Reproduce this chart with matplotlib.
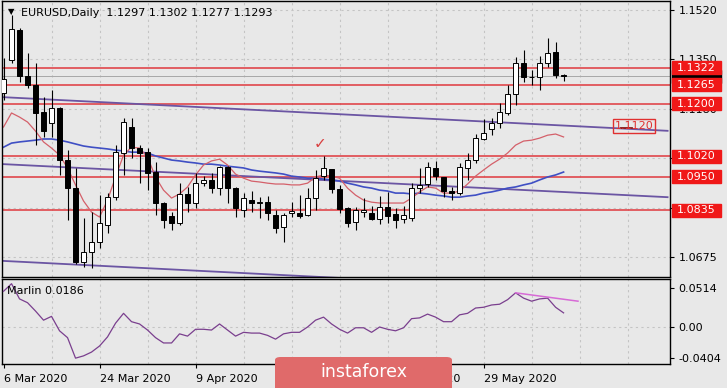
import numpy as np
import pandas as pd
import matplotlib
matplotlib.use('Agg')
import matplotlib.pyplot as plt
import matplotlib.transforms as mtransforms
from matplotlib.patches import Rectangle, FancyBboxPatch

# EURUSD daily bars, 6 Mar 2020 onwards
opens = [1.1236, 1.1349, 1.1452, 1.1294, 1.1263, 1.1171, 1.1134, 1.1185, 1.1007, 1.0911,
         1.0658, 1.0692, 1.0727, 1.0785, 1.0880, 1.1031, 1.1120, 1.1048, 1.1034, 1.0966,
         1.0860, 1.0815, 1.0792, 1.0891, 1.0860, 1.0928, 1.0939, 1.0911, 1.0983, 1.0911,
         1.0836, 1.0870, 1.0860, 1.0863, 1.0819, 1.0778, 1.0826, 1.0826, 1.0819, 1.0877,
         1.0952, 1.0976, 1.0908, 1.0843, 1.0795, 1.0829, 1.0826, 1.0805, 1.0846, 1.0822,
         1.0805, 1.0809, 1.0911, 1.0925, 1.0980, 1.0949, 1.0901, 1.0894, 1.0980, 1.1007,
         1.1079, 1.1113, 1.1134, 1.1168, 1.1233, 1.1339, 1.1291, 1.1291, 1.1339, 1.1376,
         1.1297]
highs = [1.1356, 1.1503, 1.1458, 1.1373, 1.1339, 1.1222, 1.1246, 1.1188, 1.1041, 1.0980,
         1.0809, 1.0829, 1.0887, 1.0894, 1.1058, 1.1151, 1.1151, 1.1058, 1.1048, 1.1000,
         1.0864, 1.0829, 1.0928, 1.0915, 1.0963, 1.0952, 1.0963, 1.0986, 1.0986, 1.0915,
         1.0894, 1.0901, 1.0880, 1.0884, 1.0836, 1.0826, 1.0864, 1.0887, 1.0911, 1.0973,
         1.1021, 1.0976, 1.0922, 1.0846, 1.0846, 1.0877, 1.0850, 1.0884, 1.0898, 1.0843,
         1.0850, 1.0928, 1.0980, 1.1000, 1.1004, 1.0949, 1.0915, 1.0997, 1.1031, 1.1096,
         1.1147, 1.1151, 1.1202, 1.1264, 1.1359, 1.1383, 1.1315, 1.1363, 1.1424, 1.1411,
         1.1302]
lows = [1.1212, 1.1339, 1.1274, 1.1253, 1.1058, 1.1086, 1.1086, 1.0956, 1.0802, 1.0651,
        1.0641, 1.0637, 1.0706, 1.0757, 1.0870, 1.0956, 1.1014, 1.0928, 1.0904, 1.0819,
        1.0774, 1.0768, 1.0785, 1.0829, 1.0843, 1.0918, 1.0894, 1.0887, 1.0860, 1.0812,
        1.0812, 1.0829, 1.0809, 1.0802, 1.0757, 1.0727, 1.0812, 1.0809, 1.0815, 1.0836,
        1.0939, 1.0894, 1.0826, 1.0778, 1.0768, 1.0812, 1.0802, 1.0788, 1.0792, 1.0774,
        1.0792, 1.0798, 1.0894, 1.0915, 1.0939, 1.0880, 1.0870, 1.0887, 1.0939, 1.0997,
        1.1075, 1.1093, 1.1116, 1.1161, 1.1195, 1.1274, 1.1264, 1.1246, 1.1325, 1.1287,
        1.1277]
closes = [1.1284, 1.1455, 1.1294, 1.1264, 1.1168, 1.1106, 1.1185, 1.1007, 1.0911, 1.0658,
          1.0692, 1.0727, 1.0792, 1.0880, 1.1034, 1.1137, 1.1048, 1.1031, 1.0963, 1.0860,
          1.0802, 1.0792, 1.0891, 1.0860, 1.0928, 1.0939, 1.0911, 1.0983, 1.0911, 1.0843,
          1.0877, 1.0860, 1.0863, 1.0826, 1.0774, 1.0819, 1.0833, 1.0815, 1.0877, 1.0945,
          1.0980, 1.0908, 1.0839, 1.0792, 1.0836, 1.0836, 1.0805, 1.0846, 1.0815, 1.0802,
          1.0819, 1.0911, 1.0922, 1.0983, 1.0952, 1.0901, 1.0894, 1.0983, 1.1007, 1.1082,
          1.1099, 1.1134, 1.1171, 1.1233, 1.1339, 1.1291, 1.1290, 1.1339, 1.1373, 1.1298,
          1.1293]

# moving averages drawn on the price chart
ma_fast = [1.1120, 1.1168, 1.1154, 1.1137, 1.1106, 1.1069, 1.1048, 1.1024, 1.0980, 1.0922,
           1.0867, 1.0829, 1.0812, 1.0870, 1.0949, 1.1024, 1.1051, 1.1048, 1.1017, 1.0949,
           1.0904, 1.0877, 1.0891, 1.0915, 1.0956, 1.0990, 1.1004, 1.1010, 1.0990, 1.0959,
           1.0945, 1.0935, 1.0932, 1.0928, 1.0925, 1.0925, 1.0922, 1.0922, 1.0928, 1.0949,
           1.0956, 1.0952, 1.0945, 1.0911, 1.0887, 1.0870, 1.0863, 1.0860, 1.0860, 1.0860,
           1.0860, 1.0877, 1.0898, 1.0915, 1.0911, 1.0894, 1.0894, 1.0901, 1.0925, 1.0952,
           1.0973, 1.0993, 1.1010, 1.1031, 1.1058, 1.1072, 1.1075, 1.1082, 1.1092, 1.1096,
           1.1086]
ma_slow = [1.1051, 1.1065, 1.1069, 1.1072, 1.1075, 1.1079, 1.1079, 1.1075, 1.1069, 1.1062,
           1.1055, 1.1051, 1.1048, 1.1045, 1.1041, 1.1038, 1.1034, 1.1034, 1.1031, 1.1021,
           1.1014, 1.1007, 1.1004, 1.1000, 1.0997, 1.0993, 1.0993, 1.0990, 1.0986, 1.0983,
           1.0980, 1.0973, 1.0969, 1.0966, 1.0963, 1.0959, 1.0952, 1.0949, 1.0945, 1.0945,
           1.0942, 1.0939, 1.0935, 1.0928, 1.0922, 1.0915, 1.0911, 1.0904, 1.0901, 1.0894,
           1.0894, 1.0891, 1.0894, 1.0891, 1.0887, 1.0884, 1.0880, 1.0880, 1.0884, 1.0887,
           1.0894, 1.0898, 1.0904, 1.0911, 1.0915, 1.0922, 1.0928, 1.0939, 1.0949, 1.0956,
           1.0966]

# Marlin oscillator (lower panel)
marlin = [0.047, 0.057, 0.037, 0.032, 0.021, 0.009, 0.014, -0.005, -0.014, -0.041,
          -0.038, -0.033, -0.025, -0.013, 0.005, 0.018, 0.007, 0.004, -0.004, -0.014,
          -0.021, -0.021, -0.009, -0.012, -0.003, -0.003, -0.004, 0.004, -0.004, -0.012,
          -0.007, -0.008, -0.008, -0.011, -0.016, -0.009, -0.007, -0.007, 0.000, 0.009,
          0.013, 0.004, -0.003, -0.008, -0.001, -0.001, -0.007, 0.000, -0.003, -0.005,
          -0.001, 0.011, 0.012, 0.017, 0.013, 0.007, 0.007, 0.016, 0.018, 0.025,
          0.026, 0.029, 0.030, 0.036, 0.045, 0.038, 0.034, 0.037, 0.038, 0.026,
          0.0186]

levels = [1.1322, 1.1265, 1.1200, 1.1020, 1.0950, 1.0835]
price_ticks = [1.1520, 1.1351, 1.1182, 1.1013, 1.0844, 1.0675]
# 1.1015 and 1.0845 sit fully behind the red level tags
price_tick_labels = ['1.1520', '1.1350', '1.1180', '', '', '1.0675']
osc_ticks = [0.0514, 0.0, -0.0404]
osc_tick_labels = ['0.0514', '0.00', '-0.0404']

# trend lines: (bar, value) pairs
channel_upper = ([0, 83], [1.1222, 1.1107])
channel_lower = ([0, 83], [1.0993, 1.0880])
channel_bottom = ([0, 83], [1.0662, 1.0547])
osc_trend = ([64, 71.8], [0.045, 0.034])
marked_level = 1.1120

dates = pd.bdate_range('2020-03-06', periods=len(closes))

bg = '#e8e8e8'
W, H = 727, 388
plt.rcParams['font.family'] = 'DejaVu Sans'
fig = plt.figure(figsize=(W / 100, H / 100), dpi=100, facecolor=bg)


def px_axes(x0, y0, x1, y1):
    return fig.add_axes([x0 / W, 1 - y1 / H, (x1 - x0) / W, (y1 - y0) / H])


ax = px_axes(2, 1, 670, 277)
ax2 = px_axes(2, 279, 670, 364)
idx = np.arange(len(closes))
xlim = (-0.19, 83.3)

for a in (ax, ax2):
    a.set_facecolor(bg)
    a.set_xlim(*xlim)
    for s in a.spines.values():
        s.set_color('black')
        s.set_linewidth(1)
    a.yaxis.tick_right()
    a.tick_params(axis='y', direction='out', length=3, width=0.8, labelsize=8, pad=3)
    for gx in np.arange(6, xlim[1], 6):
        a.axvline(gx, color='#c4c4c4', lw=0.8, ls=(0, (2, 3)), zorder=0)

# price panel
ax.set_ylim(1.0607, 1.1551)
ax.set_yticks(price_ticks)
ax.set_yticklabels(price_tick_labels)
ax.set_xticks([])
for t in price_ticks:
    ax.axhline(t, color='#c4c4c4', lw=0.8, ls=(0, (2, 3)), zorder=0)

for lvl in levels:
    ax.axhline(lvl, color='#e0393e', lw=1.1, zorder=2)
ax.axhline(closes[-1], color='#a8a8a8', lw=0.7, zorder=1.5)

for xs, ys in (channel_upper, channel_lower, channel_bottom):
    ax.plot(xs, ys, color='#6b55a3', lw=1.3, zorder=2.2)

ax.plot(idx, ma_slow, color='#3f4fc4', lw=1.2, zorder=2.4)
ax.plot(idx, ma_fast, color='#d4606a', lw=0.9, zorder=2.4)

o = np.array(opens)
c = np.array(closes)
ax.vlines(idx, lows, highs, color='black', lw=0.8, zorder=3)
body_lo = np.minimum(o, c)
body_h = np.maximum(np.abs(c - o), 0.00008)
body_col = np.where(c >= o, 'white', 'black')
ax.bar(idx, body_h, bottom=body_lo, width=0.62, color=body_col,
       edgecolor='black', linewidth=0.7, zorder=4)

# right-hand price labels
ytrans = mtransforms.blended_transform_factory(ax.transAxes, ax.transData)
box_h = 13 * (1.1551 - 1.0607) / 276
ax.add_patch(Rectangle((1.003, closes[-1] - box_h / 2), 0.073, box_h, transform=ytrans,
                       color='black', clip_on=False, zorder=6))
for lvl in levels:
    ax.add_patch(Rectangle((1.003, lvl - box_h / 2), 0.073, box_h, transform=ytrans,
                           color='#f01818', clip_on=False, zorder=7))
    ax.text(1.0395, lvl, f'{lvl:.4f}', transform=ytrans, color='white',
            fontsize=8, ha='center', va='center', clip_on=False, zorder=8)

ax.plot([77.2, 78.5], [marked_level - 0.0002] * 2, color='#8b1a1a', lw=1.3, zorder=2.3)
ax.text(78.8, marked_level + 0.0002, f'{marked_level:.4f}', color='#e03030', fontsize=8,
        ha='center', va='center', zorder=5,
        bbox=dict(boxstyle='square,pad=0.18', fc='none', ec='#e03030', lw=1))

peak = int(np.argmax(highs[30:50])) + 30
ax.text(peak - 0.4, highs[peak] + 0.0042, '\u2713', color='#d94040', fontsize=11,
        ha='center', va='center', zorder=5)

# oscillator panel
ax2.set_ylim(-0.0487, 0.0632)
ax2.set_yticks(osc_ticks)
ax2.set_yticklabels(osc_tick_labels)
ax2.axhline(0, color='#c4c4c4', lw=0.8, ls=(0, (2, 3)), zorder=0)
ax2.plot(idx, marlin, color='#7a3f8e', lw=0.9, zorder=3)
ax2.plot(*osc_trend, color='#d76ad6', lw=1.1, zorder=3)
lab_idx = idx[::12]
date_labels = [f'{d.day} {d:%b %Y}' for d in dates[lab_idx]]
date_labels[3] = ''  # hidden behind the watermark
ax2.set_xticks(lab_idx)
ax2.set_xticklabels(date_labels, ha='left')
ax2.tick_params(axis='x', direction='out', length=3, width=0.8, labelsize=8, pad=4)
ax2.text(0.008, 0.855, f'Marlin {marlin[-1]:.4f}', transform=ax2.transAxes, fontsize=8,
         va='center', ha='left')

# header
fig.text(11 / W, 1 - 12 / H, '\u25bc', fontsize=6, ha='center', va='center')
fig.text(21 / W, 1 - 13 / H,
         f'EURUSD,Daily  {opens[-1]:.4f} {highs[-1]:.4f} {lows[-1]:.4f} {closes[-1]:.4f}',
         fontsize=8, ha='left', va='center')

# watermark
fig.patches.append(FancyBboxPatch((275 / W, -0.02), 177 / W, (31 / H) + 0.02,
                                  boxstyle='round,pad=0,rounding_size=0.008',
                                  transform=fig.transFigure, fc='#e06a6a', ec='none',
                                  zorder=10))
fig.text(320 / W, 1 - 372 / H, 'instaforex', color='white', fontsize=12.5,
         ha='left', va='center', zorder=11)

fig.savefig('out.png', dpi=100, facecolor=bg)
